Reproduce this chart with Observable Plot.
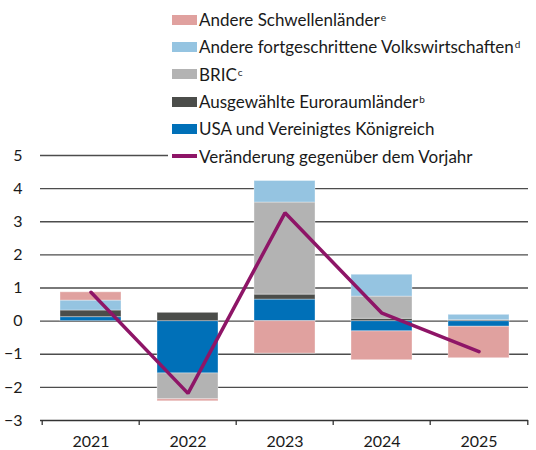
<!DOCTYPE html>
<html><head><meta charset="utf-8">
<script src="https://cdn.jsdelivr.net/npm/d3@7"></script>
<script src="https://cdn.jsdelivr.net/npm/@observablehq/plot@0.6"></script>
<style>
html,body{margin:0;padding:0;background:#fff;}
body{font-family:Lato,"Noto Sans",sans-serif;color:#1a1a1a;}
#wrap{position:relative;width:536px;height:450px;overflow:hidden;}
#legend{position:absolute;left:168px;top:6px;right:0;background:#fff;padding-bottom:2px;}
.row{display:flex;align-items:center;height:27.3px;font-size:17px;white-space:nowrap;}
.sw{width:25px;height:10px;margin-left:4px;margin-right:2px;flex:none;}
.ln{width:25px;height:3.5px;margin-left:4px;margin-right:2px;flex:none;}
sup{font-size:10px;vertical-align:5px;line-height:1;margin-left:1px;}
</style></head>
<body><div id="wrap"><div id="chart"></div><div id="legend"></div></div>
<script>
const years = ["2021", "2022", "2023", "2024", "2025"];
const seriesNames = ["USA und Vereinigtes Königreich", "Ausgewählte Euroraumländer", "BRIC", "Andere fortgeschrittene Volkswirtschaften", "Andere Schwellenländer"];
const seriesNotes = ["", "b", "c", "d", "e"];
const seriesColors = ["#0070b8", "#4b4d4a", "#b3b3b3", "#95c4e1", "#e0a19f"];
const usa = [0.12, -1.58, 0.65, -0.31, -0.17];
const euro = [0.20, 0.25, 0.15, 0.07, 0.03];
const bric = [0, -0.78, 2.78, 0.67, 0];
const otherAdv = [0.30, 0, 0.65, 0.66, 0.16];
const otherEm = [0.25, -0.06, -0.98, -0.87, -0.95];
const totalChange = [0.87, -2.18, 3.27, 0.24, -0.92];
const lineName = "Veränderung gegenüber dem Vorjahr";
const lineColor = "#8e1567";
const yTicks = [-3, -2, -1, 0, 1, 2, 3, 4, 5];

const W = 536, H = 450, ml = 40, mr = 8, mt = 155, mb = 30;
const step = (W - ml - mr) / years.length;
const seriesValues = [usa, euro, bric, otherAdv, otherEm];
const rows = [];
seriesNames.forEach((s, i) => years.forEach((y, j) => {
  if (seriesValues[i][j] !== 0) rows.push({year: y, series: s, value: seriesValues[i][j]});
}));
const lineData = years.map((y, i) => ({year: y, value: totalChange[i]}));

const chart = Plot.plot({
  width: W, height: H,
  marginLeft: ml, marginRight: mr, marginTop: mt, marginBottom: mb,
  style: {fontFamily: 'Lato, "Noto Sans", sans-serif', fontSize: "16px", color: "#1a1a1a", background: "#fff", overflow: "visible"},
  x: {domain: years, paddingInner: 0.375, paddingOuter: 0.1875, label: null},
  y: {domain: [-3, 5], label: null},
  color: {domain: seriesNames, range: seriesColors},
  marks: [
    Plot.gridY(yTicks.slice(1), {stroke: "#4d4d4d", strokeOpacity: 1, strokeWidth: 1.3}),
    Plot.ruleY([-3], {stroke: "#333", strokeWidth: 1.3}),
    Plot.barY(rows, {x: "year", y: "value", fill: "series", stroke: "#fff", strokeOpacity: 0.35, strokeWidth: 1}),
    Plot.lineY(lineData, {x: "year", y: "value", stroke: lineColor, strokeWidth: 3.5, strokeLinejoin: "miter"}),
    Plot.ruleX(years, {x: d => d, y1: -3, y2: -3, dx: -step / 2, insetBottom: -5, stroke: "#333", strokeWidth: 1.3}),
    Plot.ruleX(years.slice(-1), {x: d => d, y1: -3, y2: -3, dx: step / 2, insetBottom: -5, stroke: "#333", strokeWidth: 1.3}),
    Plot.axisY(yTicks, {tickSize: 0, tickPadding: 18, label: null}),
    Plot.axisX({tickSize: 0, tickPadding: 15, label: null})
  ]
});
document.getElementById("chart").appendChild(chart);

const legend = document.getElementById("legend");
const entries = seriesNames.map((s, i) => ({name: s, note: seriesNotes[i], color: seriesColors[i], type: "rect"})).reverse();
entries.push({name: lineName, note: "", color: lineColor, type: "line"});
for (const e of entries) {
  const r = document.createElement("div");
  r.className = "row";
  const sw = document.createElement("span");
  sw.className = e.type === "rect" ? "sw" : "ln";
  sw.style.background = e.color;
  r.appendChild(sw);
  const t = document.createElement("span");
  t.textContent = e.name;
  if (e.note) { const s = document.createElement("sup"); s.textContent = e.note; t.appendChild(s); }
  r.appendChild(t);
  legend.appendChild(r);
}
</script></body></html>
